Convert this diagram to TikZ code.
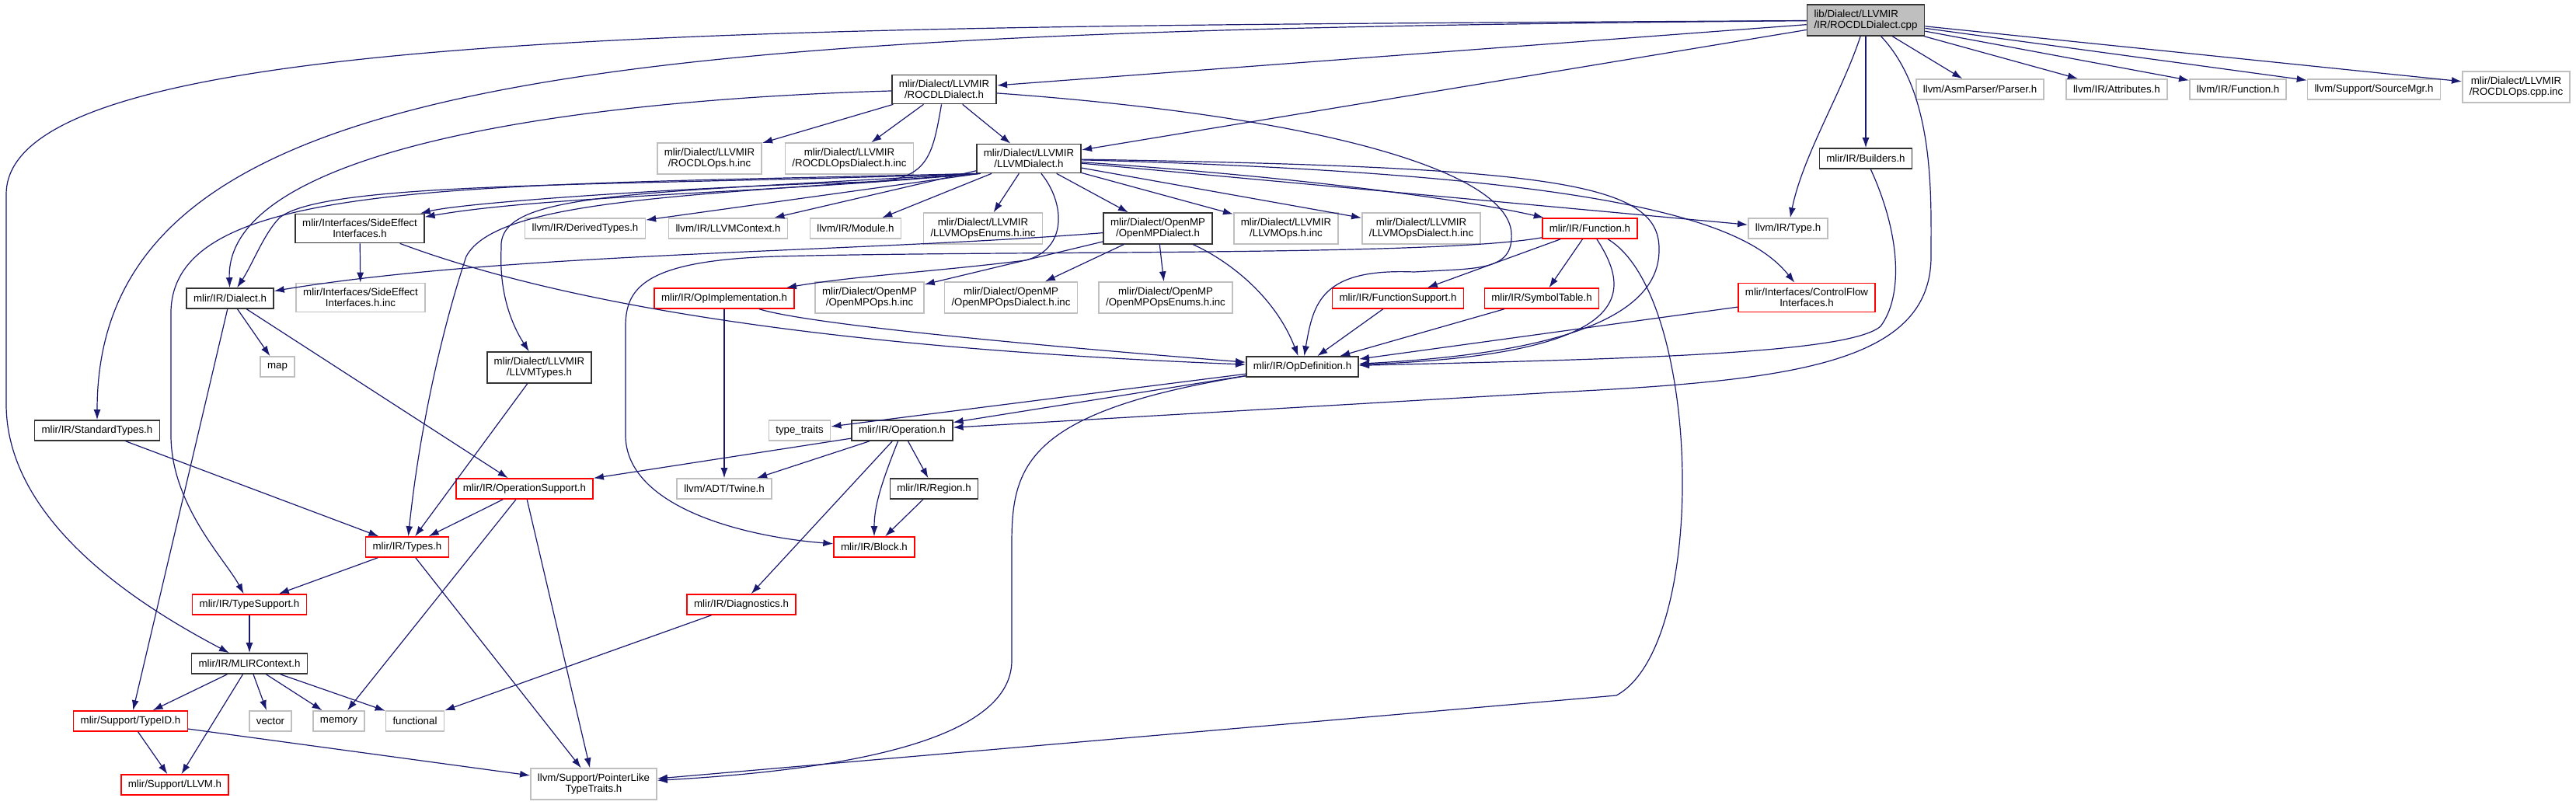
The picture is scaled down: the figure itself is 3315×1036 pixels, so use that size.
\documentclass[tikz,border=0pt]{standalone}
\usepackage{fontspec}
\setmainfont{Liberation Sans}
\usepackage{tikz}
\usetikzlibrary{arrows.meta}
\definecolor{edgeblue}{HTML}{191970}
\definecolor{leafgray}{HTML}{BFBFBF}
\definecolor{truncred}{HTML}{FF0000}
\newcommand{\depfont}{\fontsize{13.3}{14.3}\selectfont}

\begin{document}
\begin{tikzpicture}[
  x=1pt, y=-1pt,
  every node/.style={rectangle, draw, font=\depfont, align=center, inner xsep=9pt, inner ysep=6.5pt, minimum height=26pt, line width=1.6pt},
  hdr/.style={draw=black!80},
  leaf/.style={draw=leafgray},
  trunc/.style={draw=truncred},
  dep/.style={draw=edgeblue, line width=1.2pt, -{Latex[length=13pt,width=9pt]}}
]
\useasboundingbox (0,0) rectangle (3315,1036);

% rank 0 and 1
\node[hdr, fill=black!25, align=left] (root) at (2401,26) {lib/Dialect/LLVMIR\\/IR/ROCDLDialect.cpp};
\node[hdr] (rocdlh) at (1215,115) {mlir/Dialect/LLVMIR\\/ROCDLDialect.h};
\node[leaf] (parser) at (2548,115) {llvm/AsmParser/Parser.h};
\node[leaf] (attrs) at (2724,115) {llvm/IR/Attributes.h};
\node[leaf] (llvmfunc) at (2880,115) {llvm/IR/Function.h};
\node[leaf] (srcmgr) at (3055,115) {llvm/Support/SourceMgr.h};
\node[leaf] (cppinc) at (3238,112) {mlir/Dialect/LLVMIR\\/ROCDLOps.cpp.inc};

% rank 2
\node[leaf] (opsinc) at (913,204) {mlir/Dialect/LLVMIR\\/ROCDLOps.h.inc};
\node[leaf] (opsdialinc) at (1093,204) {mlir/Dialect/LLVMIR\\/ROCDLOpsDialect.h.inc};
\node[hdr] (llvmdialect) at (1324,204) {mlir/Dialect/LLVMIR\\/LLVMDialect.h};
\node[hdr] (builders) at (2401,204) {mlir/IR/Builders.h};

% rank 3
\node[hdr] (sideeff) at (463,294) {mlir/Interfaces/SideEffect\\Interfaces.h};
\node[leaf] (derived) at (753,294) {llvm/IR/DerivedTypes.h};
\node[leaf] (context) at (937,294) {llvm/IR/LLVMContext.h};
\node[leaf] (module) at (1101,294) {llvm/IR/Module.h};
\node[leaf] (enumsinc) at (1265,294) {mlir/Dialect/LLVMIR\\/LLVMOpsEnums.h.inc};
\node[hdr] (omp) at (1490,294) {mlir/Dialect/OpenMP\\/OpenMPDialect.h};
\node[leaf] (llvmopsinc) at (1655,294) {mlir/Dialect/LLVMIR\\/LLVMOps.h.inc};
\node[leaf] (llvmopsdialinc) at (1829,294) {mlir/Dialect/LLVMIR\\/LLVMOpsDialect.h.inc};
\node[trunc] (function) at (2046,294) {mlir/IR/Function.h};
\node[leaf] (type) at (2301,294) {llvm/IR/Type.h};

% rank 4
\node[hdr] (dialect) at (296,384) {mlir/IR/Dialect.h};
\node[leaf] (sideeffinc) at (464,383) {mlir/Interfaces/SideEffect\\Interfaces.h.inc};
\node[trunc] (opimpl) at (932,384) {mlir/IR/OpImplementation.h};
\node[leaf] (ompopsinc) at (1119,383) {mlir/Dialect/OpenMP\\/OpenMPOps.h.inc};
\node[leaf] (ompdialinc) at (1301,383) {mlir/Dialect/OpenMP\\/OpenMPOpsDialect.h.inc};
\node[leaf] (ompenumsinc) at (1500,383) {mlir/Dialect/OpenMP\\/OpenMPOpsEnums.h.inc};
\node[trunc] (funcsupport) at (1799,384) {mlir/IR/FunctionSupport.h};
\node[trunc] (symtable) at (1984,384) {mlir/IR/SymbolTable.h};
\node[trunc] (cflow) at (2325,383) {mlir/Interfaces/ControlFlow\\Interfaces.h};

% rank 5 and below
\node[leaf] (map) at (357,472) {map};
\node[hdr] (llvmtypes) at (694,473) {mlir/Dialect/LLVMIR\\/LLVMTypes.h};
\node[hdr] (opdef) at (1676,472) {mlir/IR/OpDefinition.h};
\node[hdr] (stdtypes) at (125,554) {mlir/IR/StandardTypes.h};
\node[leaf] (typetraits) at (1029,554) {type\_traits};
\node[hdr] (operation) at (1161,554) {mlir/IR/Operation.h};
\node[trunc] (opsupport) at (675,629) {mlir/IR/OperationSupport.h};
\node[leaf] (twine) at (932,629) {llvm/ADT/Twine.h};
\node[hdr] (region) at (1202,629) {mlir/IR/Region.h};
\node[trunc] (types) at (524,704) {mlir/IR/Types.h};
\node[trunc] (block) at (1125,704) {mlir/IR/Block.h};
\node[trunc] (typesupport) at (321,778) {mlir/IR/TypeSupport.h};
\node[trunc] (diagnostics) at (954,778) {mlir/IR/Diagnostics.h};
\node[hdr] (mlircontext) at (321,854) {mlir/IR/MLIRContext.h};
\node[trunc] (typeid) at (168,928) {mlir/Support/TypeID.h};
\node[leaf] (vector) at (348,928) {vector};
\node[leaf] (memory) at (436,928) {memory};
\node[leaf] (functional) at (534,928) {functional};
\node[trunc] (llvmh) at (225,1010) {mlir/Support/LLVM.h};
\node[leaf] (ptrlike) at (764,1009) {llvm/Support/PointerLike\\TypeTraits.h};

% includes of the .cpp file
\draw[dep] (root) -- (rocdlh);
\draw[dep] (root) -- (llvmdialect);
\draw[dep] (root) -- (builders);
\draw[dep] (root) .. controls (2370,120) and (2320,200) .. (type);
\draw[dep] (root) -- (parser);
\draw[dep] (root) -- (attrs);
\draw[dep] (root) -- (llvmfunc);
\draw[dep] (root) -- (srcmgr);
\draw[dep] (root) -- (cppinc);
\draw[dep] (root) .. controls (800,40) and (125,80) .. (stdtypes);
\draw[dep] (root) .. controls (1000,35) and (8,30) .. (8,250) -- (8,520) .. controls (8,680) and (200,790) .. (mlircontext);
\draw[dep] (root) .. controls (2490,120) and (2485,250) .. (2485,330) .. controls (2485,470) and (2300,490) .. (2000,505) -- (operation);

% ROCDLDialect.h
\draw[dep] (rocdlh) -- (opsinc);
\draw[dep] (rocdlh) -- (opsdialinc);
\draw[dep] (rocdlh) -- (llvmdialect);
\draw[dep] (rocdlh) .. controls (700,130) and (290,200) .. (dialect);
\draw[dep] (rocdlh) .. controls (1200,200) and (1195,232) .. (1120,234) .. controls (900,240) and (600,260) .. (sideeff);
\draw[dep] (rocdlh) .. controls (1700,150) and (1940,220) .. (1945,300) .. controls (1948,350) and (1900,345) .. (1820,350) .. controls (1700,345) and (1690,390) .. (opdef);

% LLVMDialect.h, left side
\draw[dep] ([xshift=3pt]llvmdialect.south west) .. controls (1000,248) and (700,252) .. (sideeff);
\draw[dep] ([xshift=5pt]llvmdialect.south west) -- (derived);
\draw[dep] (llvmdialect) -- (context);
\draw[dep] (llvmdialect) -- (module);
\draw[dep] ([xshift=2pt]llvmdialect.south west) .. controls (800,240) and (420,232) .. (360,280) .. controls (340,300) and (325,340) .. (dialect);
\draw[dep] ([xshift=1pt]llvmdialect.south west) .. controls (600,240) and (225,230) .. (220,400) -- (220,560) .. controls (220,650) and (290,720) .. (typesupport);
\draw[dep] ([xshift=4pt]llvmdialect.south west) .. controls (800,250) and (640,248) .. (645,320) .. controls (642,380) and (660,420) .. (llvmtypes);
\draw[dep] ([xshift=6pt]llvmdialect.south west) .. controls (900,252) and (640,255) .. (600,330) .. controls (570,420) and (540,550) .. (types);

% LLVMDialect.h, right side
\draw[dep] (llvmdialect) -- (enumsinc);
\draw[dep] (llvmdialect) -- (omp);
\draw[dep] (llvmdialect) -- (llvmopsinc);
\draw[dep] (llvmdialect) -- (llvmopsdialinc);
\draw[dep] (llvmdialect) .. controls (1700,230) and (1900,260) .. (function);
\draw[dep] (llvmdialect) -- (type);
\draw[dep] (llvmdialect) .. controls (2100,225) and (2250,290) .. (cflow);
\draw[dep] (llvmdialect) .. controls (2000,215) and (2135,235) .. (2135,320) .. controls (2137,410) and (2000,455) .. (opdef);
\draw[dep] (llvmdialect) .. controls (1370,260) and (1375,320) .. (1320,335) .. controls (1200,350) and (1100,355) .. (opimpl);

% OpenMPDialect.h
\draw[dep] (omp) .. controls (1100,325) and (650,325) .. (dialect);
\draw[dep] (omp) -- (ompopsinc);
\draw[dep] (omp) -- (ompdialinc);
\draw[dep] (omp) -- (ompenumsinc);
\draw[dep] (omp) .. controls (1580,335) and (1640,380) .. (opdef);

% Function.h, Builders.h and the interfaces
\draw[dep] (function) -- (funcsupport);
\draw[dep] (function) -- (symtable);
\draw[dep] (function) .. controls (2095,370) and (2120,455) .. (opdef);
\draw[dep] ([yshift=2pt]function.south west) .. controls (1850,330) and (1300,322) .. (1000,330) .. controls (830,335) and (805,370) .. (805,420) -- (805,560) .. controls (805,650) and (950,690) .. (block);
\draw[dep] (function) .. controls (2190,380) and (2200,830) .. (2080,895) -- (ptrlike);
\draw[dep] (funcsupport) -- (opdef);
\draw[dep] (symtable) -- (opdef);
\draw[dep] (cflow) -- (opdef);
\draw[dep] (builders) .. controls (2445,300) and (2450,380) .. (2420,420) .. controls (2380,455) and (2100,462) .. (opdef);
\draw[dep] (sideeff) -- (sideeffinc);
\draw[dep] (sideeff) .. controls (800,420) and (1250,455) .. (opdef);
\draw[dep] (opimpl) -- (twine);
\draw[dep] (opimpl) .. controls (1050,420) and (1400,450) .. (opdef);

% Dialect.h
\draw[dep] (dialect) -- (map);
\draw[dep] (dialect) -- (opsupport);
\draw[dep] (dialect) -- (typeid);

% OpDefinition.h and Operation.h
\draw[dep] (opdef) -- (typetraits);
\draw[dep] (opdef) -- (operation);
\draw[dep] (opdef) .. controls (1320,530) and (1302,600) .. (1302,700) -- (1302,850) .. controls (1302,950) and (1100,990) .. (ptrlike);
\draw[dep] (operation) -- (opsupport);
\draw[dep] (operation) -- (twine);
\draw[dep] (operation) -- (region);
\draw[dep] (operation) .. controls (1135,620) and (1125,650) .. (block);
\draw[dep] (operation) -- (diagnostics);
\draw[dep] (region) -- (block);

% types and context
\draw[dep] (llvmtypes) -- (types);
\draw[dep] (stdtypes) -- (types);
\draw[dep] (opsupport) -- (types);
\draw[dep] (opsupport) -- (memory);
\draw[dep] (opsupport) -- (ptrlike);
\draw[dep] (types) -- (typesupport);
\draw[dep] (types) -- (ptrlike);
\draw[dep] (typesupport) -- (mlircontext);
\draw[dep] (diagnostics) -- (functional);
\draw[dep] (mlircontext) -- (typeid);
\draw[dep] (mlircontext) -- (llvmh);
\draw[dep] (mlircontext) -- (vector);
\draw[dep] (mlircontext) -- (memory);
\draw[dep] (mlircontext) -- (functional);
\draw[dep] (typeid) -- (llvmh);
\draw[dep] (typeid) -- (ptrlike);
\end{tikzpicture}
\end{document}
